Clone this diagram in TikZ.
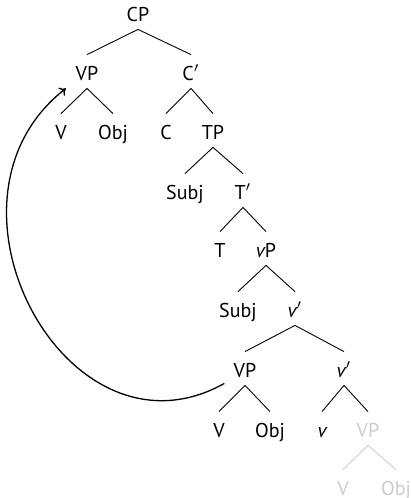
\documentclass[tikz,border=0pt]{standalone}
\usepackage{fontspec}
\setmainfont{PT Sans}
\newcommand{\barprime}{$'$}
\usepackage{tikz}
\usetikzlibrary{arrows.meta}

\definecolor{trace}{gray}{0.8}

\begin{document}
\begin{tikzpicture}[x=0.5pt, y=-0.5pt,
    cat/.style={anchor=base, inner xsep=2pt, inner ysep=4pt,
                text height=8.5pt, text depth=0pt},
    ghost/.style={cat, text=trace},
    branch/.style={line width=0.45pt},
    movement/.style={line width=0.65pt, -{To[length=3pt,width=5pt]}}]

\useasboundingbox (0,0) rectangle (411,498);

%---------------------------------------
% Tree nodes (x, baseline)
%---------------------------------------
\node[cat] (cp)     at (138,21)  {CP};

\node[cat] (vpA)    at (87,80)   {VP};
\node[cat] (cbar)   at (191,80)  {C\barprime};

\node[cat] (vA)     at (61,139)  {V};
\node[cat] (objA)   at (113,139) {Obj};
\node[cat] (c)      at (166,139) {C};
\node[cat] (tp)     at (213,139) {TP};

\node[cat] (subjA)  at (185,199) {Subj};
\node[cat] (tbar)   at (243,199) {T\barprime};

\node[cat] (t)      at (220,257) {T};
\node[cat] (littlevp) at (266,257) {{\itshape v}P};

\node[cat] (subjB)  at (238,317) {Subj};
\node[cat] (vbarA)  at (295,317) {{\itshape v}\barprime};

\node[cat] (vpB)    at (245,377) {VP};
\node[cat] (vbarB)  at (344,377) {{\itshape v}\barprime};

\node[cat] (vB)     at (219,437) {V};
\node[cat] (objB)   at (270,437) {Obj};
\node[cat] (littlev) at (322,437) {{\itshape v}};
\node[ghost] (vpC)  at (368,437) {VP};

\node[ghost] (vC)   at (343,495) {V};
\node[ghost] (objC) at (396,495) {Obj};

%---------------------------------------
% Branches
%---------------------------------------
\foreach \mother/\daughter in {cp/vpA, cp/cbar, vpA/vA, vpA/objA,
    cbar/c, cbar/tp, tp/subjA, tp/tbar, tbar/t, tbar/littlevp,
    littlevp/subjB, littlevp/vbarA, vbarA/vpB, vbarA/vbarB,
    vpB/vB, vpB/objB, vbarB/littlev, vbarB/vpC}
  \draw[branch] (\mother.south) -- (\daughter.north);

% lower copy, greyed out
\foreach \daughter in {vC, objC}
  \draw[branch, trace] (vpC.south) -- (\daughter.north);

%---------------------------------------
% VP fronting
%---------------------------------------
\draw[movement] ([xshift=-2.5pt,yshift=1pt]vpB.south west)
  .. controls +(-157,88) and +(-144,112) .. ([xshift=-2.7pt]vpA.south west);

\end{tikzpicture}
\end{document}
